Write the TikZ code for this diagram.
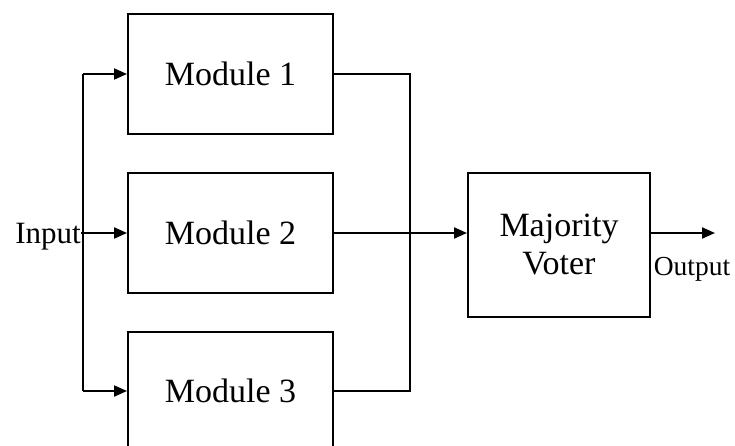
\documentclass[tikz,border=0pt]{standalone}
\usepackage{fontspec}
\setmainfont{Liberation Serif}
\usetikzlibrary{arrows.meta}
\begin{document}
\begin{tikzpicture}[x=1pt,y=-1pt,
  wire/.style={line width=2pt},
  arr/.style={wire,-{Triangle[length=13pt,width=11pt]}},
  blk/.style={draw,line width=2pt,inner sep=0pt,font=\fontsize{34}{38}\selectfont,align=center},
  lbl/.style={inner sep=0pt,font=\fontsize{31}{34}\selectfont}]
\useasboundingbox (0,0) rectangle (735,446);
\clip (0,0) rectangle (735,446);
\fill[white] (0,0) rectangle (735,446);
\node[blk,minimum width=205pt,minimum height=120pt] (m1) at (230.5,74) {Module 1};
\node[blk,minimum width=205pt,minimum height=120pt] (m2) at (230.5,233) {Module 2};
\node[blk,minimum width=205pt,minimum height=118pt] (m3) at (230.5,391) {Module 3};
\node[blk,minimum width=182pt,minimum height=143pt] (v) at (559,245) {Majority\\Voter};
\node[lbl,anchor=base east] (in) at (81,243) {Input};
\node[lbl,anchor=base,font=\fontsize{27.5}{30}\selectfont] (out) at (692,275) {Output};
\coordinate (s1) at (83,74);
\coordinate (s3) at (83,391);
\coordinate (j1) at (410,74);
\coordinate (j3) at (410,391);
\coordinate (o) at (715,233);
\draw[wire] (s1) -- (s3);
\draw[arr] (s1) -- (m1.west);
\draw[arr] (s3) -- (m3.west);
\draw[arr] (in.east |- m2.west) -- (m2.west);
\draw[wire] (m1.east) -- (j1) -- (j3) -- (m3.east);
\draw[arr] (m2.east) -- (m2.east -| v.west);
\draw[arr] (v.east |- m2.east) -- (o);
\end{tikzpicture}
\end{document}
